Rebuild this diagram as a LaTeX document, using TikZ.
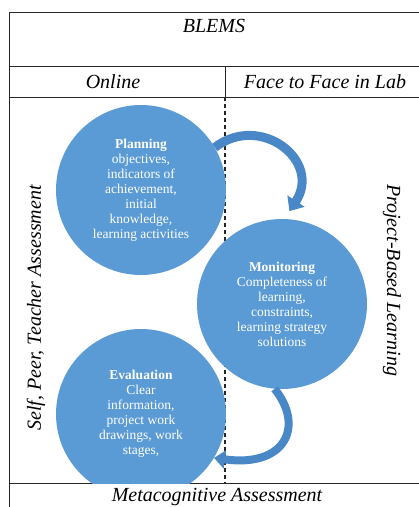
\documentclass[tikz,border=0pt]{standalone}
\usepackage{fontspec}
\setmainfont{Liberation Serif}
\usetikzlibrary{arrows.meta}
\definecolor{phaseblue}{HTML}{5B9BD5}
\definecolor{arrowblue}{HTML}{4A87C7}

\begin{document}
\begin{tikzpicture}[x=1pt,y=-1pt,
  phase/.style={shape=circle,fill=phaseblue,text=white,align=center,minimum size=170pt,inner sep=0pt,font=\fontsize{13.5}{15}\selectfont},
  rule/.style={draw=black!85,line width=0.8pt},
  header/.style={font=\fontsize{20}{24}\selectfont\itshape},
  cycle/.style={draw=arrowblue,line width=9pt,-{Triangle[width=20pt,length=12pt]}}]
\useasboundingbox (0,0) rectangle (419,507);

% table frame
\draw[rule] (9,507) -- (9,12) -- (419,12);
\draw[rule] (9,66) -- (419,66);
\draw[rule] (9,97) -- (419,97);
\draw[rule] (9,483) -- (419,483);
\draw[rule] (225,66) -- (225,97);
\draw[rule,line width=1.1pt,dash pattern=on 4pt off 3pt] (225,97) -- (225,483);

% headers
\node[header] (blems) at (214,26) {BLEMS};
\node[header] (online) at (113,82) {Online};
\node[header] (lab) at (325,82) {Face to Face in Lab};
\node[header,rotate=90] (assess) at (36,308) {Self, Peer, Teacher Assessment};
\node[header,rotate=-90] (pbl) at (392,280) {Project-Based Learning};
\node[header,anchor=base,inner ysep=0pt] (meta) at (217,501) {Metacognitive Assessment};

% phases
\begin{scope}
\clip (0,97) rectangle (419,483);
\node[phase] (planning) at (141,190) {\textbf{Planning}\\objectives,\\indicators of\\achievement,\\initial\\knowledge,\\learning activities};
\node[phase] (monitoring) at (282,304) {\textbf{Monitoring}\\Completeness of\\learning,\\constraints,\\learning strategy\\solutions};
\node[phase] (evaluation) at (141,414) {\textbf{Evaluation}\\Clear\\information,\\project work\\drawings, work\\stages,};
\end{scope}

\draw[cycle] (planning.30) .. controls +(46,-35) and +(33,-50) .. ([yshift=8pt]monitoring.85);
\draw[cycle,line width=8pt,-{Triangle[width=18pt,length=11pt]}] (monitoring.-95) .. controls +(30,37) and +(72,10) .. (evaluation.-31);
\end{tikzpicture}
\end{document}
